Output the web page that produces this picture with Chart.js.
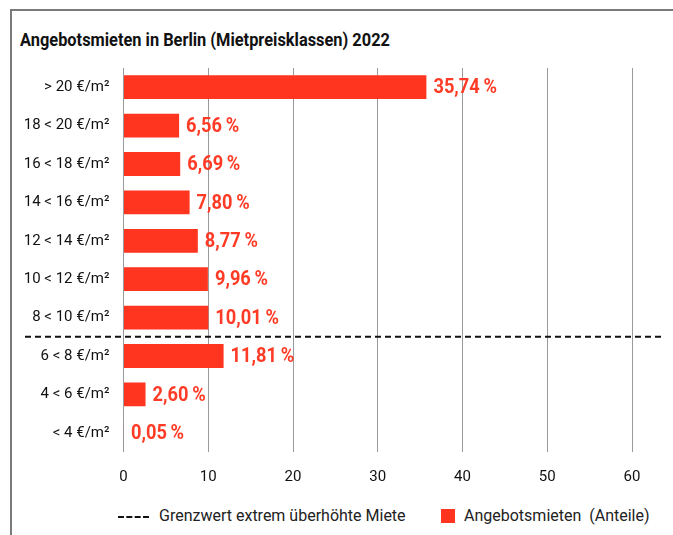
<!DOCTYPE html>
<html>
<head>
<meta charset="utf-8">
<script src="https://cdn.jsdelivr.net/npm/chart.js@4/dist/chart.umd.min.js"></script>
<style>
  body {
    margin: 0;
    width: 673px;
    height: 535px;
    overflow: hidden;
    background: #fff;
    font-family: Roboto, "Liberation Sans", sans-serif;
  }
  #marco {
    position: absolute;
    left: 10px;
    top: 9px;
    width: 700px;
    height: 600px;
    border-top: 2px solid #7a7a7a;
    border-left: 2px solid #7a7a7a;
  }
  #titulo {
    position: absolute;
    left: 20px;
    top: 29px;
    font-size: 18px;
    font-weight: bold;
    color: #111;
    white-space: nowrap;
    transform: scaleX(0.91);
    transform-origin: left center;
  }
  #grafico {
    position: absolute;
    left: 14px;
    top: 53px;
  }
  .leyenda {
    position: absolute;
    top: 506px;
    font-size: 16px;
    color: #222;
    white-space: nowrap;
  }
  .guion {
    position: absolute;
    left: 118px;
    top: 516px;
    width: 31px;
    height: 0;
    border-top: 2px dashed #111;
  }
  .cuadro {
    position: absolute;
    left: 441px;
    top: 509px;
    width: 14px;
    height: 14px;
    background: #ff3520;
  }
</style>
</head>
<body>
<div id="marco"></div>
<div id="titulo">Angebotsmieten in Berlin (Mietpreisklassen) 2022</div>
<canvas id="grafico" width="650" height="437"></canvas>
<div class="guion"></div>
<div class="leyenda" style="left:159px">Grenzwert extrem überhöhte Miete</div>
<div class="cuadro"></div>
<div class="leyenda" style="left:464px">Angebotsmieten&nbsp; (Anteile)</div>
<script>
// Mietpreisklassen (von oben nach unten)
const klassen = ['> 20 €/m²', '18 < 20 €/m²', '16 < 18 €/m²', '14 < 16 €/m²', '12 < 14 €/m²',
  '10 < 12 €/m²', '8 < 10 €/m²', '6 < 8 €/m²', '4 < 6 €/m²', '< 4 €/m²'];
const anteile = [35.74, 6.56, 6.69, 7.80, 8.77, 9.96, 10.01, 11.81, 2.60, 0.05];
const xTicks = [0, 10, 20, 30, 40, 50, 60];
// Grenzwert liegt zwischen "8 < 10" und "6 < 8"
const grenzwertNach = 6;

const fuente = 'Roboto, "Liberation Sans", sans-serif';
const rojo = '#ff3520';

// etiquetas de valor al final de cada barra (algo estrechadas)
const etiquetas = {
  id: 'etiquetas',
  afterDatasetsDraw(chart) {
    const ctx = chart.ctx;
    const meta = chart.getDatasetMeta(0);
    meta.data.forEach((bar, i) => {
      const txt = anteile[i].toFixed(2).replace('.', ',') + '\u2009%';
      ctx.save();
      ctx.translate(bar.x + 7, bar.y + 1);
      ctx.scale(0.87, 1);
      ctx.font = 'bold 21px ' + fuente;
      ctx.fillStyle = '#ff3b26';
      ctx.textAlign = 'left';
      ctx.textBaseline = 'middle';
      ctx.fillText(txt, 0, 0);
      ctx.restore();
    });
  }
};

// linea discontinua del Grenzwert
const grenzwert = {
  id: 'grenzwert',
  afterDatasetsDraw(chart) {
    const y = chart.scales.y;
    const py = (y.getPixelForValue(grenzwertNach) + y.getPixelForValue(grenzwertNach + 1)) / 2;
    const ctx = chart.ctx;
    ctx.save();
    ctx.strokeStyle = '#111';
    ctx.lineWidth = 2;
    ctx.setLineDash([6, 4]);
    ctx.beginPath();
    ctx.moveTo(11, py);
    ctx.lineTo(chart.width - 1, py);
    ctx.stroke();
    ctx.restore();
  }
};

const ctx = document.getElementById('grafico').getContext('2d');
new Chart(ctx, {
  type: 'bar',
  data: {
    labels: klassen,
    datasets: [{
      data: anteile,
      backgroundColor: rojo,
      borderWidth: 0,
      barPercentage: 0.62,
      categoryPercentage: 1
    }]
  },
  plugins: [grenzwert, etiquetas],
  options: {
    indexAxis: 'y',
    responsive: false,
    animation: false,
    layout: {
      padding: { top: 1, right: 32, left: 0, bottom: 0 }
    },
    plugins: {
      legend: { display: false },
      tooltip: { enabled: false }
    },
    scales: {
      x: {
        min: xTicks[0],
        max: xTicks[xTicks.length - 1],
        afterBuildTicks: (scale) => {
          scale.ticks = xTicks.map(v => ({ value: v }));
        },
        afterFit: (scale) => { scale.height = 38; },
        grid: {
          color: '#9a9a9a',
          lineWidth: 1,
          drawTicks: false
        },
        border: { display: false },
        ticks: {
          padding: 16,
          color: '#111',
          font: { family: fuente, size: 15 }
        }
      },
      y: {
        afterFit: (scale) => { scale.width = 109.5; },
        grid: { display: false },
        border: { display: false },
        ticks: {
          padding: 6,
          color: '#111',
          font: { family: fuente, size: 15 }
        }
      }
    }
  }
});
</script>
</body>
</html>
